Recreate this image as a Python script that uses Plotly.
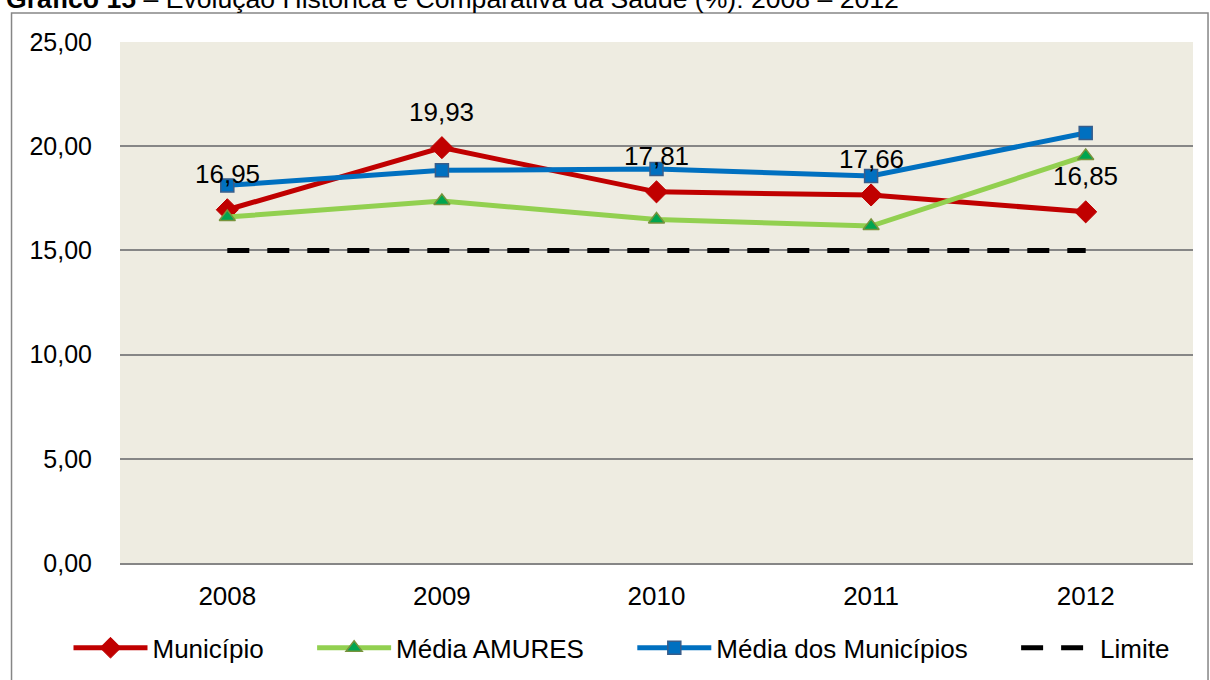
import plotly.graph_objects as go

years = ["2008", "2009", "2010", "2011", "2012"]
municipio = [16.95, 19.93, 17.81, 17.66, 16.85]
media_amures = [16.60, 17.37, 16.48, 16.17, 19.53]
media_municipios = [18.12, 18.84, 18.90, 18.57, 20.63]
limite = [15.0, 15.0, 15.0, 15.0, 15.0]
municipio_labels = ["16,95", "19,93", "17,81", "17,66", "16,85"]

FONT = "Arial, Liberation Sans, sans-serif"
PAD = "\u00a0" * 6

fig = go.Figure()
fig.add_trace(go.Scatter(
    x=years, y=municipio, name="Município" + PAD, mode="lines+markers",
    line=dict(color="#C00000", width=5),
    marker=dict(symbol="diamond", size=17, color="#C00000", line=dict(color="#C00000", width=1)),
))
fig.add_trace(go.Scatter(
    x=years, y=media_amures, name="Média AMURES" + PAD, mode="lines+markers",
    line=dict(color="#92D050", width=5),
    marker=dict(symbol="triangle-up", size=14, color="#00A550", line=dict(color="#77933C", width=1.5)),
))
fig.add_trace(go.Scatter(
    x=years, y=media_municipios, name="Média dos Municípios" + PAD, mode="lines+markers",
    line=dict(color="#0070C0", width=5),
    marker=dict(symbol="square", size=13, color="#0070C0", line=dict(color="#385D8A", width=1.5)),
))
fig.add_trace(go.Scatter(
    x=years, y=limite, name="Limite", mode="lines",
    line=dict(color="#000000", width=5, dash="22px,18px"),
))

for i, (yv, lab) in enumerate(zip(municipio, municipio_labels)):
    fig.add_annotation(x=i, y=yv, text=lab, showarrow=False, yshift=36,
                       font=dict(family=FONT, size=26, color="#000000"))

# Title (partially cut off at top as in reference)
fig.add_annotation(xref="paper", yref="paper", x=-0.108, y=1.082, xanchor="left", yanchor="middle",
                   text="<b>Gráfico 15</b> – Evolução Histórica e Comparativa da Saúde (%): 2008 – 2012",
                   showarrow=False, font=dict(family=FONT, size=26.6, color="#000000"))

# Outer chart border
fig.add_shape(type="rect", xref="paper", yref="paper", x0=-0.1011, x1=1.0140, y0=-0.30, y1=1.0557,
              line=dict(color="#868686", width=1.5), fillcolor="rgba(0,0,0,0)", layer="below")

fig.update_layout(
    width=1210, height=680,
    margin=dict(l=120, r=17, t=42, b=117, autoexpand=False),
    paper_bgcolor="#FFFFFF", plot_bgcolor="#EEECE1",
    separators=",.",
    font=dict(family=FONT, size=26, color="#000000"),
    showlegend=True,
    legend=dict(orientation="h", x=-0.048, xanchor="left", y=-0.1177, yanchor="top",
                font=dict(family=FONT, size=26), itemwidth=74, tracegroupgap=0,
                bgcolor="rgba(0,0,0,0)"),
    xaxis=dict(type="category", range=[-0.5, 4.5], showgrid=False, showline=True,
               linecolor="#868686", linewidth=1.5, ticks="", tickfont=dict(size=26), zeroline=False,
               ticklabelstandoff=9),
    yaxis=dict(range=[0, 25], dtick=5, tickformat=".2f", showgrid=True, gridcolor="#868686",
               gridwidth=1.5, showline=False, zeroline=False, ticks="", ticklabelstandoff=27,
               tickfont=dict(size=25)),
)

fig.write_html("out.html", config={"displayModeBar": False},
               post_script="document.body.style.margin='0';")
